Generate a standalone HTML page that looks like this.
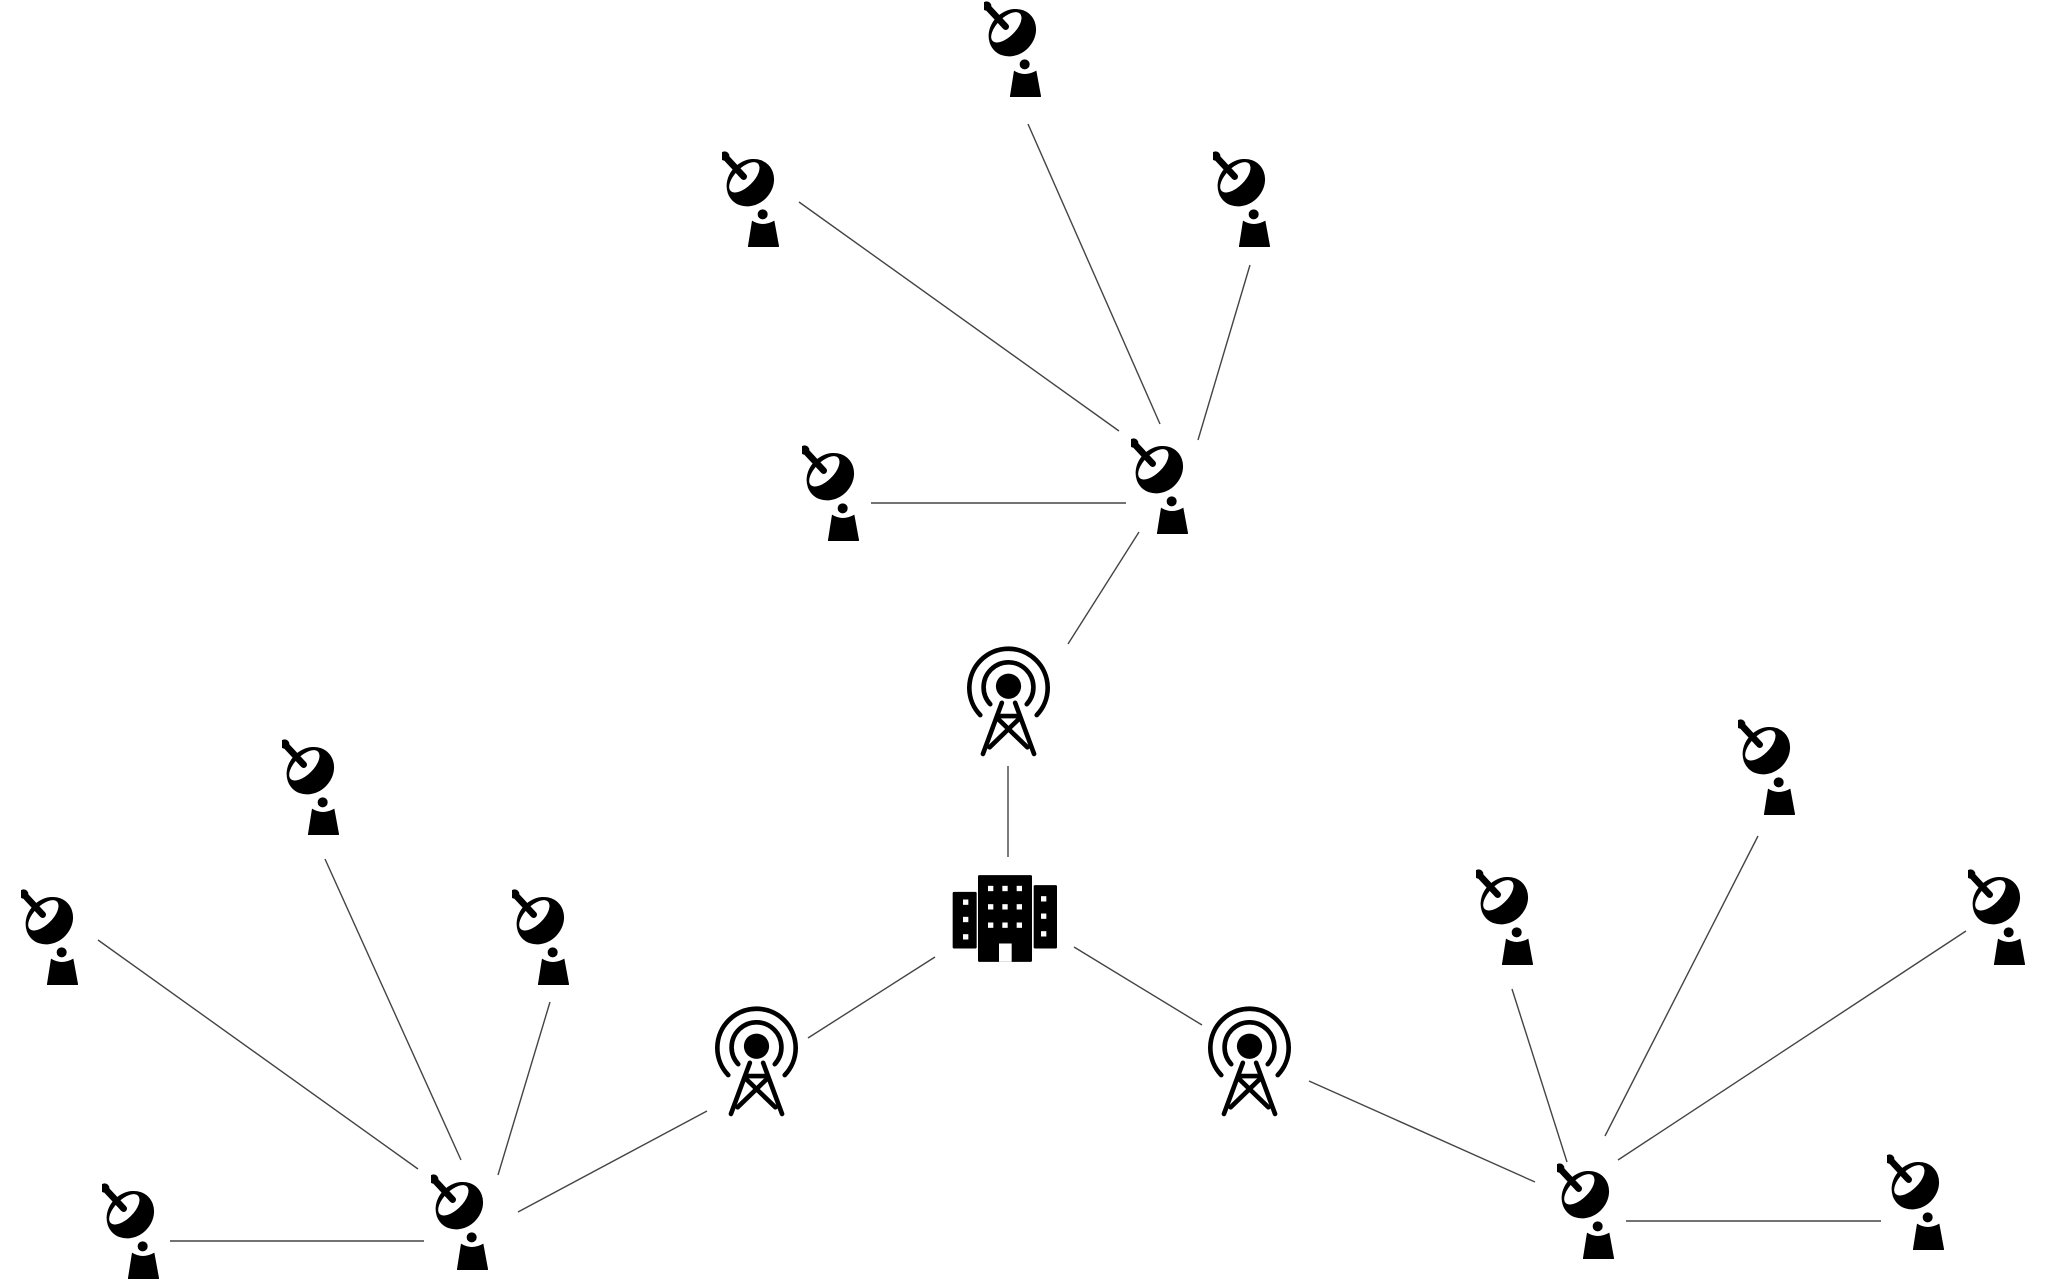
<!DOCTYPE html>
<html><head><meta charset="utf-8"><style>
html,body{margin:0;padding:0;background:#fff;}
svg{display:block;}
</style></head><body>
<svg width="2048" height="1282" viewBox="0 0 2048 1282" xmlns="http://www.w3.org/2000/svg">
<defs>
<symbol id="dish" viewBox="75 0 171 291">
  <ellipse cx="160" cy="98" rx="76" ry="66" transform="rotate(-45 160 98)" fill="#000"/>
  <ellipse cx="142" cy="82" rx="58" ry="28" transform="rotate(-45 142 82)" fill="#fff"/>
  <circle cx="83" cy="18" r="14" fill="#000"/>
  <line x1="88" y1="24" x2="140" y2="80" stroke="#000" stroke-width="20" stroke-linecap="round"/>
  <circle cx="197" cy="193" r="15" fill="#000"/>
  <path d="M 165 212 Q 197 232 232 212 L 246 288 Q 246 295 238 295 L 160 295 Q 152 295 153 288 Z" fill="#000"/>
</symbol>
<symbol id="tower" viewBox="80 45 250 335">
  <circle cx="205" cy="168" r="38" fill="#000"/>
  <path d="M 150 222 A 75 75 0 1 1 260 222" fill="none" stroke="#000" stroke-width="14" stroke-linecap="round"/>
  <path d="M 120 255 A 118 118 0 1 1 290 255" fill="none" stroke="#000" stroke-width="14" stroke-linecap="round"/>
  <g stroke="#000" stroke-width="14" stroke-linecap="round" fill="none">
    <line x1="185" y1="218" x2="128" y2="372"/>
    <line x1="225" y1="218" x2="282" y2="372"/>
    <line x1="180" y1="258" x2="230" y2="258"/>
    <line x1="172" y1="265" x2="262" y2="352"/>
    <line x1="238" y1="265" x2="148" y2="352"/>
  </g>
</symbol>
<symbol id="bldg" viewBox="35 735 315 260">
  <rect x="113" y="735" width="162" height="260" rx="4" fill="#000"/>
  <rect x="37" y="785" width="72" height="170" rx="4" fill="#000"/>
  <rect x="280" y="765" width="70" height="190" rx="4" fill="#000"/>
  <g fill="#fff">
    <rect x="143" y="767" width="16" height="16"/><rect x="186" y="767" width="16" height="16"/><rect x="229" y="767" width="16" height="16"/>
    <rect x="143" y="822" width="16" height="16"/><rect x="186" y="822" width="16" height="16"/><rect x="229" y="822" width="16" height="16"/>
    <rect x="143" y="877" width="16" height="16"/><rect x="186" y="877" width="16" height="16"/><rect x="229" y="877" width="16" height="16"/>
    <rect x="68" y="808" width="16" height="16"/><rect x="68" y="860" width="16" height="16"/><rect x="68" y="912" width="16" height="16"/>
    <rect x="302" y="798" width="16" height="16"/><rect x="302" y="850" width="16" height="16"/><rect x="302" y="903" width="16" height="16"/>
    <rect x="176" y="940" width="38" height="55"/>
  </g>
</symbol>
</defs>
<g stroke="#444" stroke-width="1.4" fill="none">
  <line x1="1028" y1="124" x2="1160" y2="424"/>
  <line x1="799" y1="202" x2="1119" y2="431"/>
  <line x1="1250" y1="265" x2="1198" y2="440"/>
  <line x1="871" y1="503" x2="1126" y2="503"/>
  <line x1="1139" y1="532" x2="1068" y2="644"/>
  <line x1="1008" y1="766" x2="1008" y2="857"/>
  <line x1="935" y1="957" x2="808" y2="1038"/>
  <line x1="1074" y1="947" x2="1202" y2="1025"/>
  <line x1="707" y1="1111" x2="518" y2="1212"/>
  <line x1="1309" y1="1081" x2="1535" y2="1182"/>
  <line x1="98" y1="940" x2="418" y2="1169"/>
  <line x1="325" y1="859" x2="461" y2="1160"/>
  <line x1="550" y1="1002" x2="498" y2="1175"/>
  <line x1="170" y1="1241" x2="424" y2="1241"/>
  <line x1="1512" y1="989" x2="1567" y2="1162"/>
  <line x1="1758" y1="836" x2="1605" y2="1136"/>
  <line x1="1966" y1="931" x2="1618" y2="1160"/>
  <line x1="1626" y1="1221" x2="1881" y2="1221"/>
</g>
<use href="#dish" x="984" y="0" width="57" height="97"/>
<use href="#dish" x="722" y="150" width="57" height="97"/>
<use href="#dish" x="1213" y="150" width="57" height="97"/>
<use href="#dish" x="1131" y="437" width="57" height="97"/>
<use href="#dish" x="802" y="444" width="57" height="97"/>
<use href="#dish" x="282" y="738" width="57" height="97"/>
<use href="#dish" x="21" y="888" width="57" height="97"/>
<use href="#dish" x="512" y="888" width="57" height="97"/>
<use href="#dish" x="431" y="1173" width="57" height="97"/>
<use href="#dish" x="102" y="1182" width="57" height="97"/>
<use href="#dish" x="1738" y="718" width="57" height="97"/>
<use href="#dish" x="1476" y="868" width="57" height="97"/>
<use href="#dish" x="1968" y="868" width="57" height="97"/>
<use href="#dish" x="1557" y="1162" width="57" height="97"/>
<use href="#dish" x="1887" y="1153" width="57" height="97"/>
<use href="#tower" x="967" y="645" width="83" height="112"/>
<use href="#tower" x="715" y="1005" width="83" height="112"/>
<use href="#tower" x="1208" y="1005" width="83" height="112"/>
<use href="#bldg" x="952" y="875" width="105" height="87"/>
</svg>
</body></html>
